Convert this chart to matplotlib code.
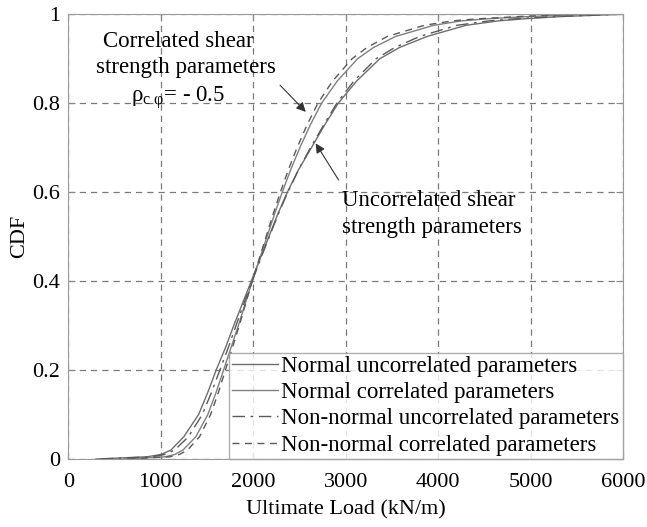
import numpy as np
import matplotlib.pyplot as plt

plt.rcParams['font.family'] = ['Liberation Serif', 'DejaVu Serif']
plt.rcParams['mathtext.fontset'] = 'custom'
plt.rcParams['mathtext.rm'] = 'Liberation Serif'
plt.rcParams['mathtext.it'] = 'Liberation Serif'

# CDF levels and the ultimate loads (kN/m)
cdf = [0.0, 0.005, 0.01, 0.02, 0.05, 0.1, 0.15, 0.2, 0.25, 0.3, 0.35, 0.4, 0.45,
       0.5, 0.55, 0.6, 0.65, 0.7, 0.75, 0.8, 0.85, 0.9, 0.925, 0.95, 0.975,
       0.985, 0.99, 0.995, 1.0]
normal_uncorr = [300, 850, 1000, 1110, 1250, 1410, 1510, 1600, 1700, 1790, 1885,
                 1980, 2075, 2170, 2265, 2370, 2490, 2630, 2770, 2920, 3120, 3370,
                 3580, 3880, 4300, 4650, 4950, 5350, 6000]
normal_corr = [600, 1050, 1150, 1240, 1380, 1510, 1600, 1680, 1760, 1840, 1915,
               1990, 2070, 2150, 2230, 2315, 2405, 2505, 2615, 2740, 2910, 3130,
               3300, 3540, 3950, 4250, 4550, 5000, 5600]
nonnormal_uncorr = [350, 900, 1040, 1150, 1300, 1450, 1550, 1640, 1730, 1815, 1900,
                    1990, 2080, 2175, 2270, 2375, 2490, 2620, 2760, 2905, 3090, 3330,
                    3530, 3800, 4200, 4550, 4850, 5300, 6000]
nonnormal_corr = [650, 1100, 1200, 1290, 1420, 1540, 1625, 1700, 1775, 1850, 1920,
                  1990, 2065, 2140, 2215, 2295, 2380, 2475, 2580, 2700, 2860, 3070,
                  3230, 3450, 3850, 4150, 4450, 4900, 5500]

labels = ['Normal uncorrelated parameters', 'Normal correlated parameters',
          'Non-normal uncorrelated parameters', 'Non-normal correlated parameters']

fig = plt.figure(figsize=(6.47, 5.27), dpi=100)
ax = fig.add_axes([0.1054, 0.129, 0.8576, 0.844])

ax.plot(normal_uncorr, cdf, color='#6e6e6e', lw=1.0, ls='-', label=labels[0])
ax.plot(normal_corr, cdf, color='#808080', lw=1.0, ls='-', label=labels[1])
ax.plot(nonnormal_uncorr, cdf, color='#5a5a5a', lw=1.0, ls=(0, (9, 4, 2, 4)), label=labels[2])
ax.plot(nonnormal_corr, cdf, color='#5a5a5a', lw=1.0, ls=(0, (5, 4)), label=labels[3])

ax.set_xlim(0, 6000)
ax.set_ylim(0, 1)
ax.set_xticks(np.arange(0, 6001, 1000))
ax.set_yticks([0, 0.2, 0.4, 0.6, 0.8, 1])
ax.set_yticklabels(['0', '0.2', '0.4', '0.6', '0.8', '1'])
ax.grid(True, color='#7a7a7a', ls=(0, (5, 4)), lw=0.9)
ax.tick_params(direction='in', top=True, right=True, labelsize=16, length=5,
               color='#888888')
ax.tick_params(axis='x', pad=10)
ax.tick_params(axis='y', pad=6)
for s in ax.spines.values():
    s.set_color('#9a9a9a')

ax.set_xlabel('Ultimate Load (kN/m)', fontsize=16, labelpad=6)
ax.set_ylabel('CDF', fontsize=16, labelpad=2)

leg = ax.legend(loc='lower right', fontsize=16.5, frameon=True, fancybox=False,
                borderaxespad=0, handlelength=2.0, handletextpad=0.15,
                labelspacing=0.22, borderpad=0.15)
leg.get_frame().set_edgecolor('#9a9a9a')
leg.get_frame().set_linewidth(1.0)

ax.text(1190, 0.939, 'Correlated shear', fontsize=16.5, ha='center', va='center')
ax.text(1270, 0.881, 'strength parameters', fontsize=16.5, ha='center', va='center')
ax.text(1190, 0.812, r'$\rho_{c\ \varphi}$= - 0.5', fontsize=16.5, ha='center', va='center')
ax.annotate('', xy=(2590, 0.776), xytext=(2270, 0.845),
            arrowprops=dict(arrowstyle='-|>', color='#333333', lw=0.8, mutation_scale=14))
ax.text(2960, 0.582, 'Uncorrelated shear', fontsize=16.5, ha='left', va='center')
ax.text(2960, 0.521, 'strength parameters', fontsize=16.5, ha='left', va='center')
ax.annotate('', xy=(2660, 0.715), xytext=(2940, 0.622),
            arrowprops=dict(arrowstyle='-|>', color='#333333', lw=0.8, mutation_scale=14))

fig.savefig('out.png', dpi=100)
